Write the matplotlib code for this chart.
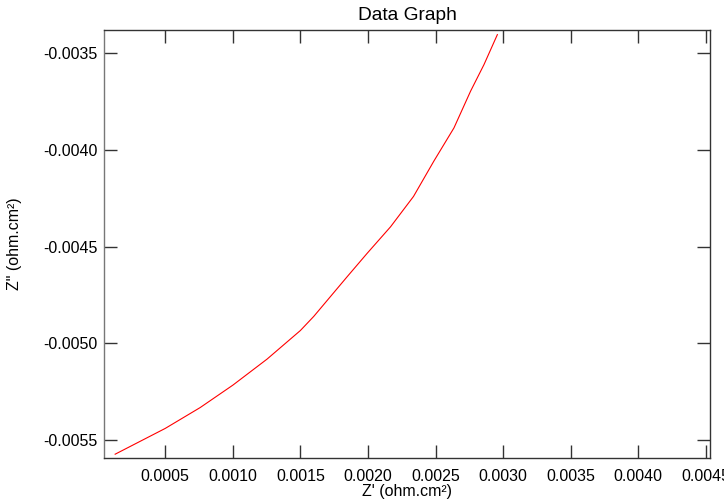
import matplotlib
matplotlib.use("Agg")
import matplotlib.pyplot as plt

# Z' and Z'' values (ohm.cm2)
z_real = [0.000130, 0.000500, 0.000759, 0.001001, 0.001253, 0.001500,
          0.001599, 0.001846, 0.001994, 0.002167, 0.002337, 0.002487,
          0.002636, 0.002759, 0.002858, 0.002957]
z_imag = [-0.005572, -0.005439, -0.005331, -0.005215, -0.005081, -0.004933,
          -0.004860, -0.004655, -0.004534, -0.004397, -0.004240, -0.004058,
          -0.003886, -0.003696, -0.003559, -0.003404]

x_ticks = [0.0005, 0.0010, 0.0015, 0.0020, 0.0025, 0.0030, 0.0035, 0.0040, 0.0045]
y_ticks = [-0.0055, -0.0050, -0.0045, -0.0040, -0.0035]

plt.rcParams["font.family"] = ["Liberation Sans", "DejaVu Sans"]
plt.rcParams["font.size"] = 11.5

fig = plt.figure(figsize=(7.24, 5.03), dpi=100)
ax = fig.add_axes([0.1441, 0.0901, 0.8366, 0.8503])

ax.plot(z_real, z_imag, color="#ff0000", lw=0.8)

ax.set_xlim(0.00005, 0.00453)
ax.set_ylim(-0.00559, -0.00338)
ax.set_xticks(x_ticks)
ax.set_yticks(y_ticks)
ax.set_xticklabels([f"{v:.4f}" for v in x_ticks])
ax.set_yticklabels([f"{v:.4f}" for v in y_ticks])

ax.tick_params(direction="in", length=9.5, width=1, color="#333333",
               top=True, right=True, pad=5)
ax.tick_params(axis="x", pad=8)
for s in ax.spines.values():
    s.set_color("#333333")
    s.set_linewidth(1)
ax.spines["left"].set_color("#777777")

ax.set_title("Data Graph", pad=7)
ax.set_xlabel("Z' (ohm.cm²)")
ax.set_ylabel('Z" (ohm.cm²)')
ax.xaxis.set_label_coords(0.5, -0.062)
ax.yaxis.set_label_coords(-0.136, 0.5)

fig.savefig("out.png", dpi=100)
